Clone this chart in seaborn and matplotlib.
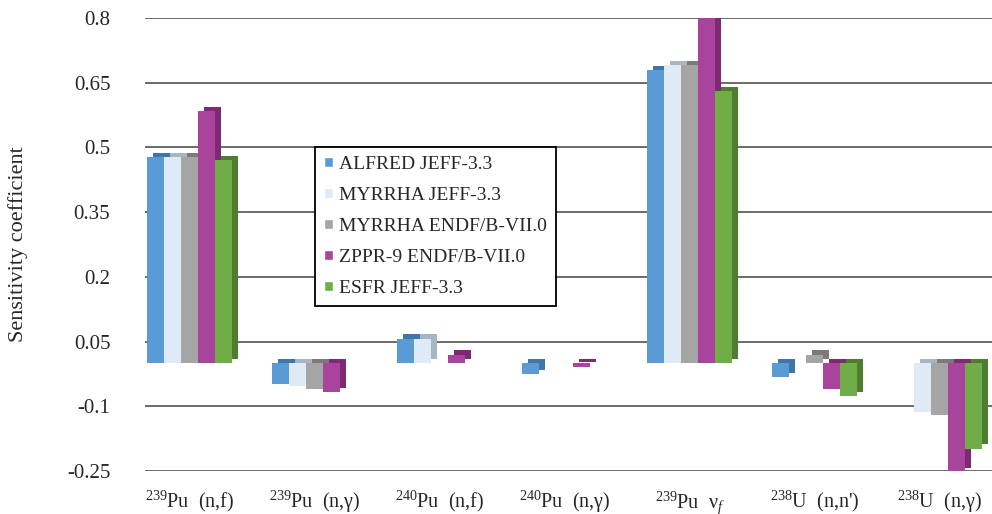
import numpy as np
import pandas as pd
import seaborn as sns
import matplotlib.pyplot as plt
import matplotlib.patheffects as pe

reactions = [r'$^{239}$Pu  (n,f)', r'$^{239}$Pu  (n,γ)', r'$^{240}$Pu  (n,f)', r'$^{240}$Pu  (n,γ)',
             r'$^{239}$Pu  ν$_f$', r"$^{238}$U  (n,n')", r'$^{238}$U  (n,γ)']
cases = ["ALFRED JEFF-3.3", "MYRRHA JEFF-3.3", "MYRRHA ENDF/B-VII.0", "ZPPR-9 ENDF/B-VII.0", "ESFR JEFF-3.3"]

alfred_jeff = [0.478, -0.048, 0.057, -0.025, 0.68, -0.032, 0.0]
myrrha_jeff = [0.478, -0.053, 0.057, 0.0, 0.69, 0.0, -0.113]
myrrha_endf = [0.478, -0.060, 0.0, 0.0, 0.69, 0.020, -0.120]
zppr_endf = [0.585, -0.067, 0.020, -0.008, 0.80, -0.060, -0.252]
esfr_jeff = [0.470, 0.0, 0.0, 0.0, 0.63, -0.077, -0.198]

colors = ["#5B9BD5", "#DEEBF7", "#A5A5A5", "#A8449B", "#70AD47"]
side_colors = ["#3F75A8", "#A9B6C2", "#7A7A7A", "#7D2A72", "#4E7D31"]

sns.set_style("white")
plt.rcParams['font.family'] = ['Liberation Serif', 'DejaVu Serif']
plt.rcParams['mathtext.fontset'] = 'custom'
plt.rcParams['mathtext.rm'] = 'Liberation Serif'
plt.rcParams['mathtext.it'] = 'Liberation Serif:italic'

rows = []
for case, vals in zip(cases, [alfred_jeff, myrrha_jeff, myrrha_endf, zppr_endf, esfr_jeff]):
    for r, v in zip(reactions, vals):
        rows.append({"reaction": r, "case": case, "value": v})
df = pd.DataFrame(rows)

fig = plt.figure(figsize=(9.92, 5.14), dpi=100)
ax = fig.add_axes([145 / 992, 1 - 471 / 514, 847 / 992, (471 - 18) / 514])

sns.barplot(data=df, x="reaction", y="value", hue="case", palette=colors, saturation=1,
            width=0.68, ax=ax, order=reactions, hue_order=cases)

# fake 3d depth: dark offset shadow behind each bar
for cont, sc in zip(ax.containers, side_colors):
    for bar in cont:
        bar.set_edgecolor("none")
        bar.set_path_effects([pe.SimplePatchShadow(offset=(4, 3), shadow_rgbFace=sc, alpha=1.0),
                              pe.Normal()])

ax.set_xlim(-0.36, 6.42)
ax.set_ylim(-0.25, 0.8)
yt = [-0.25, -0.1, 0.05, 0.2, 0.35, 0.5, 0.65, 0.8]
ax.set_yticks(yt)
ax.set_yticklabels(["-0.25", "-0.1", "0.05", "0.2", "0.35", "0.5", "0.65", "0.8"])
ax.yaxis.grid(True, color="#5F5F5F", linewidth=1.3)
ax.set_axisbelow(True)
ax.tick_params(axis="y", length=0, pad=25, labelsize=15)
ax.tick_params(axis="x", length=0, pad=13, labelsize=14.5)
sns.despine(ax=ax, left=True, bottom=True)
ax.set_xlabel("")
ax.set_ylabel("Sensitivity coefficient", fontsize=16, labelpad=28)

handles, labels = ax.get_legend_handles_labels()
leg = ax.legend(handles, labels, loc="upper left", bbox_to_anchor=(315 / 992, 1 - 147 / 514),
                bbox_transform=fig.transFigure, fontsize=14, frameon=True, fancybox=False,
                edgecolor="black", framealpha=1, handlelength=0.45, handleheight=0.45,
                handletextpad=0.35, labelspacing=0.72, borderpad=0.45, borderaxespad=0)
leg.get_frame().set_linewidth(1.3)

fig.savefig("out.png", dpi=100)
